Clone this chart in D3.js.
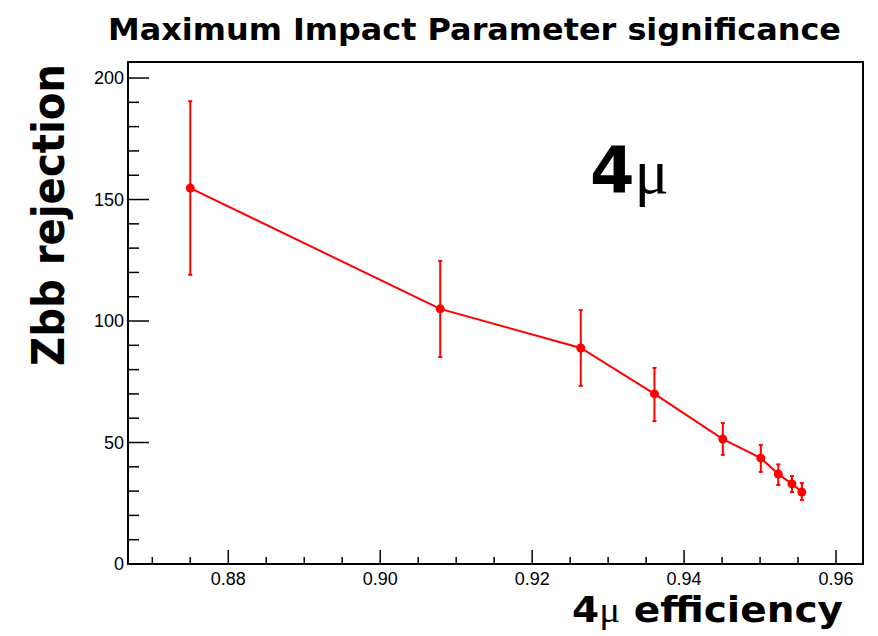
<!DOCTYPE html>
<html lang="en">
<head>
  <meta charset="UTF-8">
  <title>Maximum Impact Parameter significance</title>
  <script src="https://d3js.org/d3.v7.min.js"></script>
  <style>
    body { margin: 0; background: white; }
    svg text { font-family: "Liberation Sans", Arial, sans-serif; }
    .big { font-family: "DejaVu Sans", sans-serif; font-weight: bold; }
  </style>
</head>
<body>
  <svg id="chart" width="878" height="636"></svg>

  <script>
    // values
    const efficiency = [0.875, 0.9079, 0.9264, 0.9361, 0.9451, 0.9501, 0.9524, 0.9542, 0.9555];
    const rejection  = [154.7, 105.0, 88.9, 70.0, 51.4, 43.6, 37.0, 33.0, 29.6];
    const errHigh    = [190.5, 124.7, 104.5, 80.7, 58.0, 49.0, 41.0, 36.2, 33.3];
    const errLow     = [119.0, 85.2, 73.3, 58.8, 44.9, 37.9, 32.5, 29.6, 26.3];
    const xTicks = [0.88, 0.90, 0.92, 0.94, 0.96];
    const yTicks = [0, 50, 100, 150, 200];

    const points = efficiency.map((e, i) => ({ x: e, y: rejection[i], hi: errHigh[i], lo: errLow[i] }));

    const svg = d3.select("#chart");
    const plotL = 128, plotR = 863, plotT = 62, plotB = 564;

    const x = d3.scaleLinear().domain([0.8668, 0.96355]).range([plotL, plotR]);
    const y = d3.scaleLinear().domain([0, 206.6]).range([plotB, plotT]);

    // frame
    svg.append("rect")
      .attr("x", plotL).attr("y", plotT)
      .attr("width", plotR - plotL).attr("height", plotB - plotT)
      .attr("fill", "white").attr("stroke", "black").attr("stroke-width", 2);

    // x ticks
    const xMinor = d3.range(0.87, 0.9626, 0.005);
    svg.append("g").selectAll("line")
      .data(xMinor)
      .enter().append("line")
      .attr("x1", d => x(d)).attr("x2", d => x(d))
      .attr("y1", plotB)
      .attr("y2", d => xTicks.some(t => Math.abs(t - d) < 1e-6) ? plotB - 14 : plotB - 7)
      .attr("stroke", "black").attr("stroke-width", 1.5);

    svg.append("g").selectAll("text")
      .data(xTicks)
      .enter().append("text")
      .attr("x", d => x(d)).attr("y", plotB + 21)
      .attr("text-anchor", "middle")
      .style("font-size", "18px")
      .text(d => d.toFixed(2));

    // y ticks
    const yMinor = d3.range(0, 206, 10);
    svg.append("g").selectAll("line")
      .data(yMinor)
      .enter().append("line")
      .attr("x1", plotL)
      .attr("x2", d => d % 50 === 0 ? plotL + 21 : plotL + 11)
      .attr("y1", d => y(d)).attr("y2", d => y(d))
      .attr("stroke", "black").attr("stroke-width", 1.5);

    svg.append("g").selectAll("text")
      .data(yTicks)
      .enter().append("text")
      .attr("x", plotL - 4).attr("y", d => y(d))
      .attr("dy", "0.35em")
      .attr("text-anchor", "end")
      .style("font-size", "18px")
      .text(d => d);

    // error bars
    const bars = svg.append("g").attr("stroke", "red").attr("stroke-width", 2);
    bars.selectAll(".v")
      .data(points)
      .enter().append("line")
      .attr("x1", d => x(d.x)).attr("x2", d => x(d.x))
      .attr("y1", d => y(d.hi)).attr("y2", d => y(d.lo));
    bars.selectAll(".cap")
      .data(points.flatMap(d => [{ x: d.x, v: d.hi }, { x: d.x, v: d.lo }]))
      .enter().append("line")
      .attr("x1", d => x(d.x) - 2).attr("x2", d => x(d.x) + 2)
      .attr("y1", d => y(d.v)).attr("y2", d => y(d.v));

    // line + markers
    const line = d3.line().x(d => x(d.x)).y(d => y(d.y));
    svg.append("path")
      .datum(points)
      .attr("d", line)
      .attr("fill", "none")
      .attr("stroke", "red")
      .attr("stroke-width", 2);

    svg.append("g").selectAll("circle")
      .data(points)
      .enter().append("circle")
      .attr("cx", d => x(d.x)).attr("cy", d => y(d.y))
      .attr("r", 4.5)
      .attr("fill", "red");

    // titles
    svg.append("text")
      .attr("class", "big")
      .attr("x", 108).attr("y", 40)
      .attr("textLength", 733).attr("lengthAdjust", "spacingAndGlyphs")
      .style("font-size", "31px")
      .text("Maximum Impact Parameter significance");

    svg.append("text")
      .attr("class", "big")
      .attr("transform", "translate(64,366) rotate(-90)")
      .attr("textLength", 302).attr("lengthAdjust", "spacingAndGlyphs")
      .style("font-size", "44px")
      .text("Zbb rejection");

    const xl = svg.append("text")
      .attr("class", "big")
      .attr("x", 572).attr("y", 622)
      .attr("textLength", 271).attr("lengthAdjust", "spacingAndGlyphs")
      .style("font-size", "36px");
    xl.append("tspan").text("4");
    xl.append("tspan").style("font-family", "'Liberation Serif', serif").style("font-weight", "normal").text("\u03bc");
    xl.append("tspan").text(" efficiency");

    const label = svg.append("text")
      .attr("x", 590).attr("y", 193)
      .style("font-size", "64px");
    label.append("tspan").attr("class", "big").text("4");
    label.append("tspan").style("font-family", "'Liberation Serif', serif").text("\u03bc");
  </script>
</body>
</html>
